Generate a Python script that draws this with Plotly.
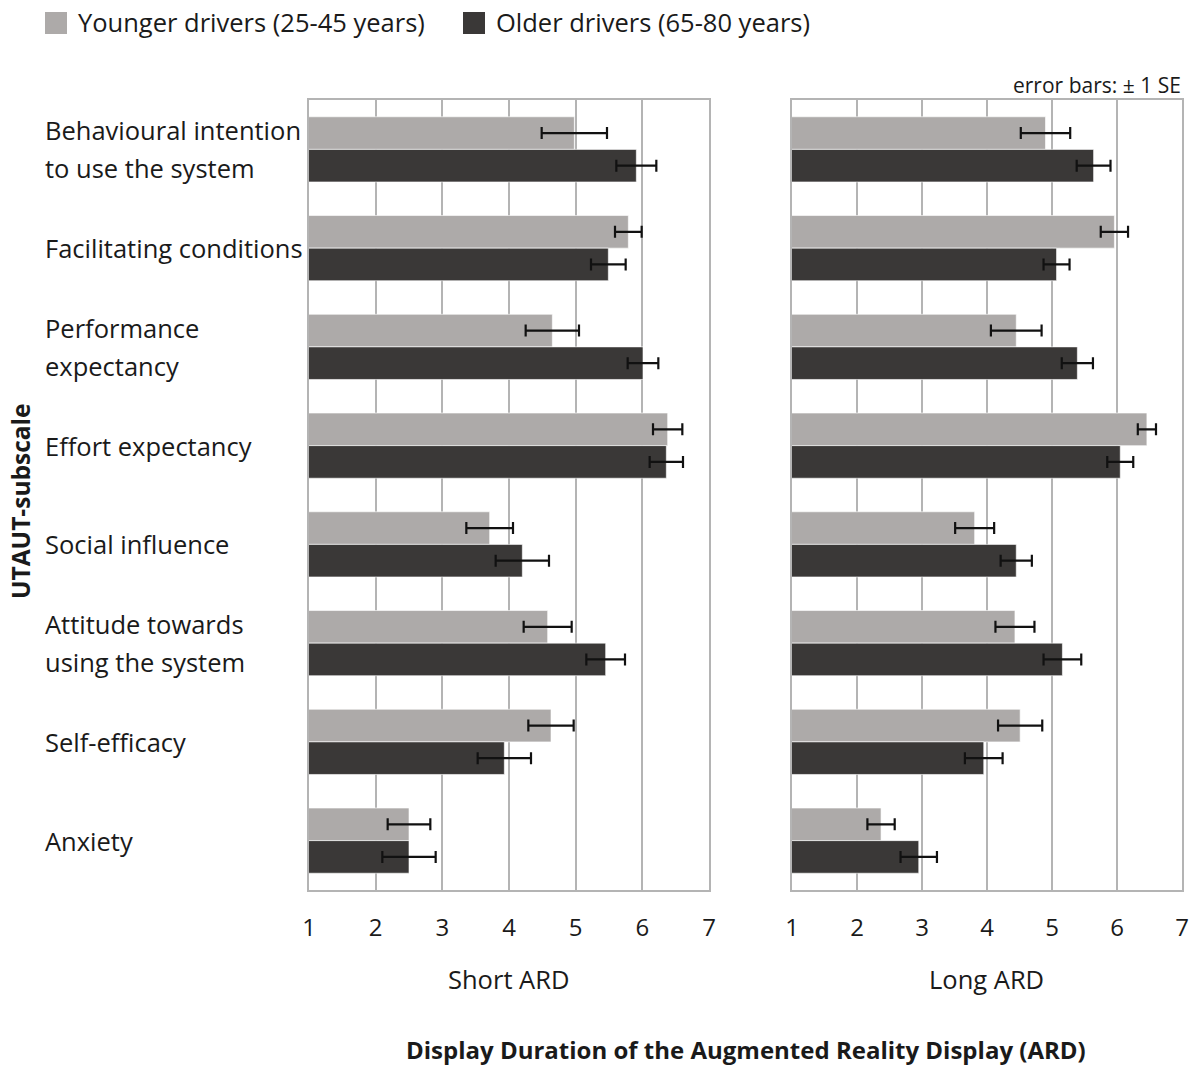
import plotly.graph_objects as go

W, H = 1195, 1068

categories = [
    "Behavioural intention<br>to use the system",
    "Facilitating conditions",
    "Performance<br>expectancy",
    "Effort expectancy",
    "Social influence",
    "Attitude towards<br>using the system",
    "Self-efficacy",
    "Anxiety",
]

# Short ARD condition
short_young = [4.98, 5.79, 4.65, 6.38, 3.71, 4.58, 4.63, 2.50]
short_young_se = [0.49, 0.20, 0.40, 0.22, 0.35, 0.36, 0.34, 0.32]
short_old = [5.91, 5.49, 6.01, 6.36, 4.20, 5.45, 3.93, 2.50]
short_old_se = [0.30, 0.26, 0.23, 0.25, 0.40, 0.29, 0.40, 0.40]

# Long ARD condition
long_young = [4.90, 5.96, 4.45, 6.46, 3.81, 4.43, 4.51, 2.37]
long_young_se = [0.38, 0.21, 0.39, 0.14, 0.30, 0.30, 0.34, 0.21]
long_old = [5.64, 5.07, 5.39, 6.05, 4.45, 5.16, 3.95, 2.95]
long_old_se = [0.26, 0.20, 0.24, 0.20, 0.24, 0.29, 0.29, 0.28]

x_ticks = [1, 2, 3, 4, 5, 6, 7]
series_names = ["Younger drivers (25-45 years)", "Older drivers (65-80 years)"]
panel_titles = ["Short ARD", "Long ARD"]

YOUNG_COLOR = "#adaaa9"
OLD_COLOR = "#3a3837"
GRID = "#b4b4b4"
TEXT = "#1a1a1a"
FONT = "Open Sans"


def px_x(p):
    return p / W


def px_y(p):
    return 1 - p / H


fig = go.Figure()

panels = [
    ("x", "y", short_young, short_young_se, short_old, short_old_se),
    ("x2", "y2", long_young, long_young_se, long_old, long_old_se),
]

for xa, ya, yv, ye, ov, oe in panels:
    for name, vals, errs, color in [
        (series_names[0], yv, ye, YOUNG_COLOR),
        (series_names[1], ov, oe, OLD_COLOR),
    ]:
        fig.add_trace(go.Bar(
            y=categories, x=vals, orientation="h", name=name,
            marker=dict(color=color, line=dict(color="rgba(255,255,255,0.6)", width=1)),
            error_x=dict(type="data", array=errs, visible=True,
                         color="#111111", thickness=2.2, width=6),
            xaxis=xa, yaxis=ya, showlegend=False,
        ))

xaxis_common = dict(
    range=[1, 7], tickvals=x_ticks, ticktext=[str(t) for t in x_ticks],
    showgrid=True, gridcolor=GRID, gridwidth=2,
    showline=True, linecolor=GRID, linewidth=2, mirror=True,
    zeroline=False, ticks="outside", ticklen=15, tickcolor="rgba(0,0,0,0)",
    tickfont=dict(family=FONT, size=24, color=TEXT), fixedrange=True,
    automargin=False,
)
yaxis_common = dict(
    categoryorder="array", categoryarray=categories, autorange="reversed",
    showticklabels=False, showgrid=False, zeroline=False,
    showline=True, linecolor=GRID, linewidth=2, mirror=True, ticks="",
    domain=[px_y(890), px_y(100)], automargin=False,
)

fig.update_layout(
    width=W, height=H,
    margin=dict(l=0, r=0, t=0, b=0),
    paper_bgcolor="white", plot_bgcolor="white",
    barmode="group", bargap=0.34, bargroupgap=0,
    xaxis=dict(xaxis_common, domain=[px_x(309), px_x(709)], anchor="y"),
    xaxis2=dict(xaxis_common, domain=[px_x(792), px_x(1182)], anchor="y2"),
    yaxis=dict(yaxis_common, anchor="x"),
    yaxis2=dict(yaxis_common, anchor="x2", matches="y"),
    font=dict(family=FONT, color=TEXT),
)

annotations = []


def label(x, y, text, size, xanchor="center", **kw):
    return dict(x=px_x(x), y=px_y(y), xref="paper", yref="paper",
                xanchor=xanchor, yanchor="middle", text=text, showarrow=False,
                font=dict(family=FONT, size=size, color=TEXT), **kw)


# Subscale labels on the left, one annotation per text line
for cat in categories:
    lines = cat.split("<br>")
    shifts = [0] if len(lines) == 1 else [19, -19]
    for line, s in zip(lines, shifts):
        annotations.append(dict(
            x=px_x(43), xref="paper", xanchor="left",
            y=cat, yref="y", yanchor="middle", yshift=s,
            text=line, showarrow=False,
            font=dict(family=FONT, size=25.5, color=TEXT),
        ))

# Panel titles below each axis
annotations.append(label(508, 979, panel_titles[0], 25.5))
annotations.append(label(986, 979, panel_titles[1], 25.5))

# Overall axis titles
annotations.append(label(746, 1049,
                         "<b>Display Duration of the Augmented Reality Display (ARD)</b>", 24,
                         borderpad=0))
annotations.append(label(20, 501, "<b>UTAUT-subscale</b>", 24.5, textangle=-90))

# Error bar note
annotations.append(label(1183, 85, "error bars: \u00b1 1 SE", 21, xanchor="right"))

# Legend drawn as swatches with text
shapes = []
legend_items = [(45, series_names[0], YOUNG_COLOR), (463, series_names[1], OLD_COLOR)]
for lx, name, color in legend_items:
    shapes.append(dict(type="rect", xref="paper", yref="paper",
                       x0=px_x(lx), x1=px_x(lx + 22), y0=px_y(34), y1=px_y(12),
                       fillcolor=color, line=dict(width=0)))
    annotations.append(label(lx + 31, 22, name, 25.5, xanchor="left"))

fig.update_layout(annotations=annotations, shapes=shapes)

fig.write_html("out.html")
